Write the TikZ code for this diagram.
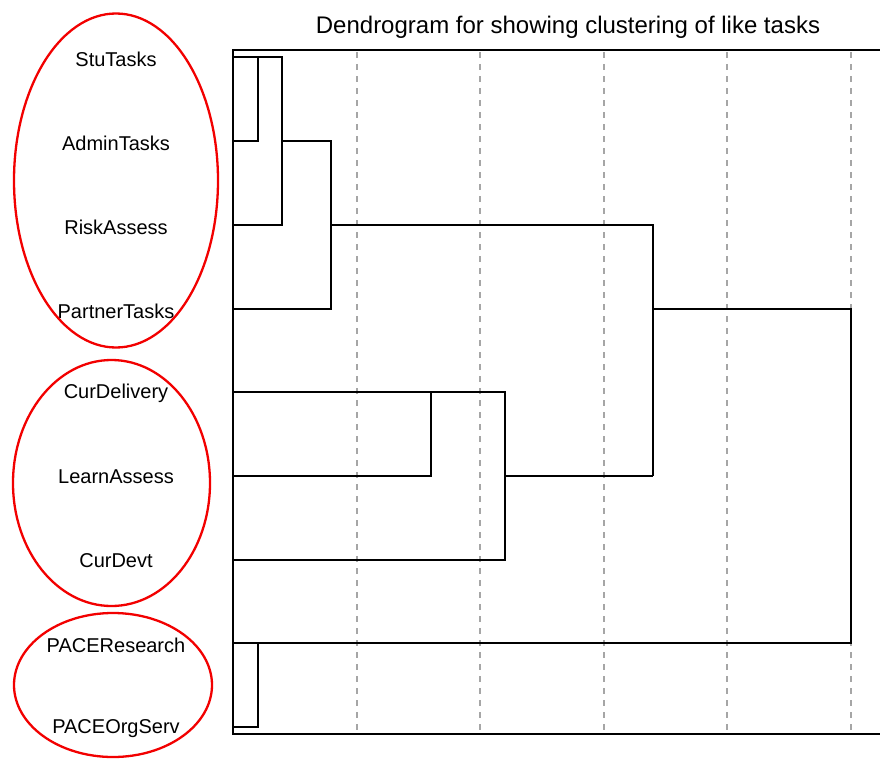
\documentclass[tikz,border=0pt]{standalone}
\usepackage{fontspec}
\setmainfont{Liberation Sans}
\begin{document}
\begin{tikzpicture}[x=1pt,y=-1pt,
  lbl/.style={inner sep=0pt,font=\fontsize{20}{22}\selectfont},
  grp/.style={draw=red!95!black,line width=2.3pt},
  frame/.style={line width=2.8pt,black},
  dend/.style={line width=2.3pt,black,line join=miter},
  grid/.style={draw=black!35,line width=1.4pt,dash pattern=on 6pt off 6pt}]
\useasboundingbox (0,0) rectangle (880,760);
% title
\node[inner sep=0pt,font=\fontsize{24}{28}\selectfont] (title) at (568,27) {Dendrogram for showing clustering of like tasks};
% grid lines
\foreach \gx in {357,480,604,727,851} \draw[grid] (\gx,52) -- (\gx,732);
% leaf coordinates
\coordinate (l1) at (233,57);
\coordinate (l2) at (233,141);
\coordinate (l3) at (233,225);
\coordinate (l4) at (233,309);
\coordinate (l5) at (233,392);
\coordinate (l6) at (233,476);
\coordinate (l7) at (233,560);
\coordinate (l8) at (233,643);
\coordinate (l9) at (233,727);
% dendrogram
\draw[dend] (l2) -| (258,57);
\draw[dend] (l1) -| (282,225) -- (l3);
\draw[dend] (282,141) -| (331,309) -- (l4);
\draw[dend] (331,225) -| (653,476);
\draw[dend] (l6) -| (431,392);
\draw[dend] (l5) -| (505,560) -- (l7);
\draw[dend] (505,476) -- (653,476);
\draw[dend] (653,309) -| (851,643) -- (l8);
\draw[dend] (l9) -| (258,643);
% frame
\draw[frame] (880,50) -- (233,50) -- (233,734) -- (880,734);
% labels
\node[lbl] (n1) at (116,59) {StuTasks};
\node[lbl] (n2) at (116,143) {AdminTasks};
\node[lbl] (n3) at (116,227) {RiskAssess};
\node[lbl] (n4) at (116,311) {PartnerTasks};
\node[lbl] (n5) at (116,393) {CurDelivery};
\node[lbl] (n6) at (116,477) {LearnAssess};
\node[lbl] (n7) at (116,561) {CurDevt};
\node[lbl] (n8) at (116,645) {PACEResearch};
\node[lbl] (n9) at (116,729) {PACEOrgServ};
% group ellipses
\draw[grp] (116,180.5) ellipse [x radius=102,y radius=167];
\draw[grp] (111.5,483) ellipse [x radius=98.5,y radius=123];
\draw[grp] (113,685) ellipse [x radius=99,y radius=72];
\end{tikzpicture}
\end{document}
